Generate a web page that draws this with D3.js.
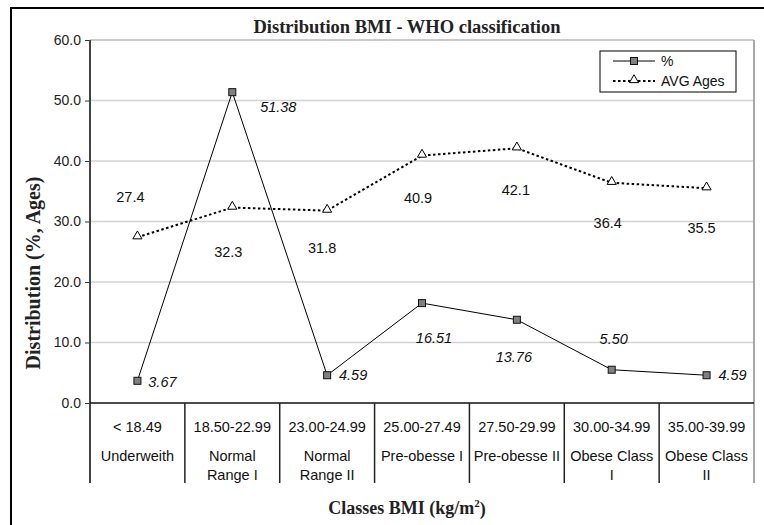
<!DOCTYPE html>
<html lang="en">
<head>
<meta charset="utf-8">
<title>Distribution BMI - WHO classification</title>
<style>
  body { margin: 0; background: #fff; }
  svg { display: block; }
  .sans { font-family: Arial, "Liberation Sans", sans-serif; }
  .serif { font-family: "Times New Roman", "Liberation Serif", serif; font-weight: bold; }
</style>
</head>
<body>
<div id="chart"></div>
<script src="https://cdn.jsdelivr.net/npm/d3@7"></script>
<script>
// data
var ranges = ["< 18.49", "18.50-22.99", "23.00-24.99", "25.00-27.49", "27.50-29.99", "30.00-34.99", "35.00-39.99"];
var classNames = [["Underweith"], ["Normal", "Range I"], ["Normal", "Range II"], ["Pre-obesse I"], ["Pre-obesse II"], ["Obese Class", "I"], ["Obese Class", "II"]];
var pct = [3.67, 51.38, 4.59, 16.51, 13.76, 5.50, 4.59];
var avgAges = [27.4, 32.3, 31.8, 40.9, 42.1, 36.4, 35.5];
var yTicks = [0, 10, 20, 30, 40, 50, 60];

// where the data labels sit around each point (layout only)
var pctLabelOffset = [[25, 1], [46, 15], [26, 0], [12, 35], [-3, 37], [2, -31], [26, 0]];
var ageLabelOffset = [[-7, -40], [-4, 44], [-5, 37], [-4, 42], [-1, 42], [-4, 40], [-5, 40]];

var width = 764, height = 525;
// note: "top" is taken by window.top, so plot edges get their own names
var plotL = 90, plotR = 754, plotT = 40, plotB = 403, tableB = 483;

var svg = d3.select("#chart").append("svg")
    .attr("width", width)
    .attr("height", height);

// outer frame (runs off the right / bottom edge)
svg.append("rect")
    .attr("x", 11).attr("y", 8)
    .attr("width", 900).attr("height", 700)
    .attr("fill", "none").attr("stroke", "#000").attr("stroke-width", 2);

var x = d3.scaleBand().domain(ranges).range([plotL, plotR]);
var y = d3.scaleLinear().domain([0, 60]).range([plotB, plotT]);

// grid (60 is the top border of the plot area)
svg.append("g").selectAll("line")
    .data(yTicks.filter(function(d) { return d > 0; }))
  .enter().append("line")
    .attr("x1", plotL).attr("x2", plotR)
    .attr("y1", function(d) { return y(d); })
    .attr("y2", function(d) { return y(d); })
    .attr("stroke", function(d) { return d === 60 ? "#b8b8b8" : "#d2d2d2"; })
    .attr("stroke-width", 1.5);

// right border of plot area
svg.append("line")
    .attr("x1", plotR).attr("x2", plotR)
    .attr("y1", plotT).attr("y2", tableB)
    .attr("stroke", "#a8a8a8").attr("stroke-width", 2);

// y axis
var yAxis = svg.append("g")
    .attr("transform", "translate(" + plotL + ",0)")
    .call(d3.axisLeft(y).tickValues(yTicks).tickFormat(d3.format(".1f")).tickSize(5).tickPadding(4));
yAxis.select(".domain").remove();
yAxis.selectAll(".tick line").attr("stroke", "#333");
yAxis.selectAll("text")
    .attr("font-size", 14).attr("fill", "#222")
    .attr("font-family", "Arial, 'Liberation Sans', sans-serif");

svg.append("line")
    .attr("x1", plotL).attr("x2", plotL)
    .attr("y1", plotT).attr("y2", tableB)
    .attr("stroke", "#444").attr("stroke-width", 2);

// x axis drawn as a table
svg.append("line")
    .attr("x1", plotL).attr("x2", plotR)
    .attr("y1", plotB).attr("y2", plotB)
    .attr("stroke", "#111").attr("stroke-width", 1.5);

svg.append("g").selectAll("line")
    .data(ranges.slice(1))
  .enter().append("line")
    .attr("x1", function(d) { return x(d); })
    .attr("x2", function(d) { return x(d); })
    .attr("y1", plotB).attr("y2", tableB)
    .attr("stroke", "#222").attr("stroke-width", 1.5);

var cell = svg.append("g").attr("class", "sans")
    .selectAll("g")
    .data(ranges)
  .enter().append("g")
    .attr("transform", function(d) { return "translate(" + (x(d) + x.bandwidth() / 2) + ",0)"; });

cell.append("text")
    .attr("y", 427).attr("dy", "0.35em")
    .attr("text-anchor", "middle")
    .attr("font-size", 14.5).attr("fill", "#111")
    .text(function(d) { return d; });

cell.each(function(d, i) {
  var g = d3.select(this);
  classNames[i].forEach(function(line, j) {
    g.append("text")
        .attr("y", 456 + j * 19).attr("dy", "0.35em")
        .attr("text-anchor", "middle")
        .attr("font-size", 14.5).attr("fill", "#111")
        .text(line);
  });
});

// lines
var cx = function(i) { return x(ranges[i]) + x.bandwidth() / 2; };

var line = d3.line()
    .x(function(d, i) { return cx(i); })
    .y(function(d) { return y(d); });

svg.append("path")
    .datum(avgAges)
    .attr("d", line)
    .attr("fill", "none")
    .attr("stroke", "#000")
    .attr("stroke-width", 2)
    .attr("stroke-dasharray", "2.5,2.5");

svg.append("path")
    .datum(pct)
    .attr("d", line)
    .attr("fill", "none")
    .attr("stroke", "#000")
    .attr("stroke-width", 1);

var tri = d3.symbol().type(d3.symbolTriangle).size(36);

svg.append("g").selectAll("path")
    .data(avgAges)
  .enter().append("path")
    .attr("d", tri)
    .attr("transform", function(d, i) { return "translate(" + cx(i) + "," + (y(d) - 1) + ")"; })
    .attr("fill", "#fff").attr("stroke", "#000").attr("stroke-width", 1);

svg.append("g").selectAll("rect")
    .data(pct)
  .enter().append("rect")
    .attr("x", function(d, i) { return cx(i) - 3.5; })
    .attr("y", function(d) { return y(d) - 3.5; })
    .attr("width", 7).attr("height", 7)
    .attr("fill", "#808080").attr("stroke", "#111").attr("stroke-width", 1);

// data labels
svg.append("g").attr("class", "sans").selectAll("text")
    .data(pct)
  .enter().append("text")
    .attr("x", function(d, i) { return cx(i) + pctLabelOffset[i][0]; })
    .attr("y", function(d, i) { return y(d) + pctLabelOffset[i][1]; })
    .attr("dy", "0.35em")
    .attr("text-anchor", "middle")
    .attr("font-size", 14.5).attr("font-style", "italic").attr("fill", "#111")
    .text(function(d) { return d3.format(".2f")(d); });

svg.append("g").attr("class", "sans").selectAll("text")
    .data(avgAges)
  .enter().append("text")
    .attr("x", function(d, i) { return cx(i) + ageLabelOffset[i][0]; })
    .attr("y", function(d, i) { return y(d) + ageLabelOffset[i][1]; })
    .attr("dy", "0.35em")
    .attr("text-anchor", "middle")
    .attr("font-size", 14.5).attr("fill", "#111")
    .text(function(d) { return d3.format(".1f")(d); });

// legend
var legend = svg.append("g").attr("transform", "translate(600,51)");
legend.append("rect")
    .attr("width", 136).attr("height", 41)
    .attr("fill", "#fff").attr("stroke", "#000").attr("stroke-width", 1);
legend.append("line")
    .attr("x1", 13).attr("x2", 55).attr("y1", 10).attr("y2", 10)
    .attr("stroke", "#000").attr("stroke-width", 1);
legend.append("rect")
    .attr("x", 30.5).attr("y", 6.5).attr("width", 7).attr("height", 7)
    .attr("fill", "#808080").attr("stroke", "#111");
legend.append("line")
    .attr("x1", 13).attr("x2", 55).attr("y1", 30).attr("y2", 30)
    .attr("stroke", "#000").attr("stroke-width", 2).attr("stroke-dasharray", "2.5,2.5");
legend.append("path")
    .attr("d", tri)
    .attr("transform", "translate(34,29)")
    .attr("fill", "#fff").attr("stroke", "#000");
legend.append("text").attr("class", "sans")
    .attr("x", 61).attr("y", 10).attr("dy", "0.35em")
    .attr("font-size", 14).attr("fill", "#111").text("%");
legend.append("text").attr("class", "sans")
    .attr("x", 61).attr("y", 30).attr("dy", "0.35em")
    .attr("font-size", 14).attr("fill", "#111").text("AVG Ages");

// titles
svg.append("text").attr("class", "serif")
    .attr("x", 407).attr("y", 27).attr("dy", "0.35em")
    .attr("text-anchor", "middle").attr("font-size", 18.5).attr("fill", "#222")
    .text("Distribution BMI - WHO classification");

var xt = svg.append("text").attr("class", "serif")
    .attr("x", 407).attr("y", 508).attr("dy", "0.35em")
    .attr("text-anchor", "middle").attr("font-size", 18).attr("fill", "#222");
xt.append("tspan").text("Classes BMI (kg/m");
xt.append("tspan").attr("font-size", 11).attr("dy", "-0.7em").text("2");
xt.append("tspan").attr("dy", "0.45em").text(")");

svg.append("text").attr("class", "serif")
    .attr("transform", "translate(33,273) rotate(-90)")
    .attr("dy", "0.35em")
    .attr("text-anchor", "middle").attr("font-size", 20).attr("fill", "#222")
    .text("Distribution (%, Ages)");
</script>
</body>
</html>
